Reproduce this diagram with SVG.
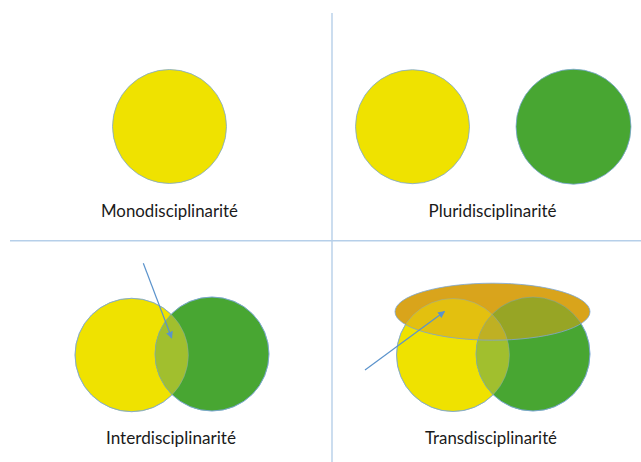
<svg xmlns="http://www.w3.org/2000/svg" width="641" height="462" viewBox="0 0 641 462">
<style>
.y{fill:#efe200;stroke:#7aa6d6;stroke-width:0.8}
.g{fill:#48a632;stroke:#7aa6d6;stroke-width:0.8}
.ov{fill:#a1bf2e;stroke:none}
.ol{fill:none;stroke:#7aa6d6;stroke-width:0.6;opacity:0.7}
.lbl{font-family:Lato,"Liberation Sans",sans-serif;font-size:17.5px;font-weight:400;fill:#1a1a1a;text-anchor:middle}
.div{stroke:#b6cfe9;stroke-width:1.4;fill:none}
.arr{stroke:#5b93cc;stroke-width:1.2;fill:none;marker-end:url(#ah)}
</style>
<defs>
<marker id="ah" viewBox="0 0 10 10" refX="9" refY="5" markerWidth="7" markerHeight="7" markerUnits="userSpaceOnUse" orient="auto">
<path d="M0,0 L10,5 L0,10 z" fill="#5b93cc"/>
</marker>
<clipPath id="cInterG"><circle cx="212" cy="354" r="57"/></clipPath>
<clipPath id="cTransG"><circle cx="533" cy="354" r="57"/></clipPath>
<clipPath id="cEll"><ellipse cx="492.5" cy="311.7" rx="97.5" ry="28.5"/></clipPath>
</defs>
<rect width="641" height="462" fill="#ffffff"/>
<g id="dividers">
<line class="div" x1="332" y1="13" x2="332" y2="462"/>
<line class="div" x1="10" y1="240.7" x2="641" y2="240.7"/>
</g>
<g id="mono">
<circle class="y" cx="169.5" cy="126.5" r="57"/>
<text class="lbl" x="169.5" y="217" textLength="137" lengthAdjust="spacingAndGlyphs">Monodisciplinarité</text>
</g>
<g id="pluri">
<circle class="y" cx="412.5" cy="126.7" r="57"/>
<circle class="g" cx="573.5" cy="126.7" r="57.5"/>
<text class="lbl" x="492.5" y="217" textLength="128" lengthAdjust="spacingAndGlyphs">Pluridisciplinarité</text>
</g>
<g id="inter">
<circle class="y" cx="131.7" cy="355" r="56.7"/>
<circle class="g" cx="212" cy="354" r="57"/>
<circle class="ov" cx="131.7" cy="355" r="56.7" clip-path="url(#cInterG)"/>
<circle class="ol" cx="131.7" cy="355" r="56.7"/>
<circle class="ol" cx="212" cy="354" r="57"/>
<text class="lbl" x="171" y="443.5" textLength="130" lengthAdjust="spacingAndGlyphs">Interdisciplinarité</text>
</g>
<g id="trans">
<circle class="y" cx="453" cy="355" r="56.5"/>
<circle class="g" cx="533" cy="354" r="57"/>
<circle class="ov" cx="453" cy="355" r="56.5" clip-path="url(#cTransG)"/>
<ellipse cx="492.5" cy="311.7" rx="97.5" ry="28.5" fill="#d9a41c"/>
<g clip-path="url(#cEll)" opacity="0.45">
<circle cx="453" cy="355" r="56.5" fill="#efe200"/>
<circle cx="533" cy="354" r="57" fill="#48a632"/>
<circle class="ov" cx="453" cy="355" r="56.5" clip-path="url(#cTransG)"/>
</g>
<circle class="ol" cx="453" cy="355" r="56.5"/>
<circle class="ol" cx="533" cy="354" r="57"/>
<ellipse cx="492.5" cy="311.7" rx="97.5" ry="28.5" fill="none" stroke="#7aa6d6" stroke-width="0.8"/>
<text class="lbl" x="491" y="444" textLength="132" lengthAdjust="spacingAndGlyphs">Transdisciplinarité</text>
</g>
<g id="connectors">
<line class="arr" x1="143.3" y1="263.3" x2="171.7" y2="338"/>
<line class="arr" x1="365" y1="370" x2="444.5" y2="311.5"/>
</g>
</svg>
